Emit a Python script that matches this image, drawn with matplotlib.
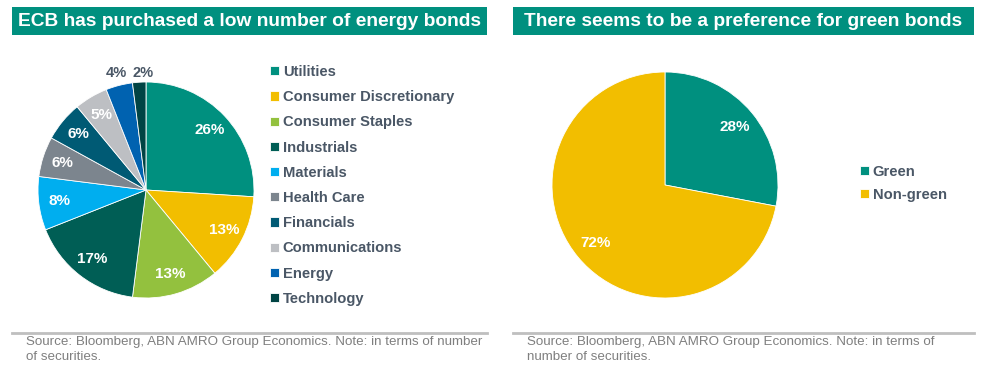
import matplotlib
matplotlib.use("Agg")
import matplotlib.pyplot as plt
from matplotlib.patches import Rectangle
from matplotlib.lines import Line2D
import numpy as np

plt.rcParams['font.family'] = ['Liberation Sans', 'DejaVu Sans']

# ---- data ----
sectors = ["Utilities", "Consumer Discretionary", "Consumer Staples", "Industrials",
           "Materials", "Health Care", "Financials", "Communications", "Energy", "Technology"]
sector_share = [26, 13, 13, 17, 8, 6, 6, 5, 4, 2]
sector_colors = ["#00907F", "#F2BE00", "#93C13E", "#005E55", "#00AEEF",
                 "#7C858E", "#005A74", "#BDBFC3", "#0062B0", "#004444"]

bond_types = ["Green", "Non-green"]
bond_share = [28, 72]
bond_colors = ["#00907F", "#F2BE00"]

title_left = "ECB has purchased a low number of energy bonds"
title_right = "There seems to be a preference for green bonds"
source_left = "Source: Bloomberg, ABN AMRO Group Economics. Note: in terms of number\nof securities."
source_right = "Source: Bloomberg, ABN AMRO Group Economics. Note: in terms of\nnumber of securities."

W, H = 982, 385
fig = plt.figure(figsize=(W / 100, H / 100), dpi=100)
fig.patch.set_facecolor("white")

TEAL = "#00907F"
LEG_COLOR = "#4A5766"
SRC_COLOR = "#7F7F7F"


def fx(px):
    return px / W


def fy(py):
    return 1 - py / H


def title_bar(x0, x1, y0, y1, text):
    fig.patches.append(Rectangle((fx(x0), fy(y1)), fx(x1) - fx(x0), fy(y0) - fy(y1),
                                 transform=fig.transFigure, facecolor=TEAL, edgecolor="none"))
    fig.text((fx(x0) + fx(x1)) / 2, (fy(y0) + fy(y1)) / 2, text, color="white",
             fontsize=13.75, fontweight="bold", ha="center", va="center")


def source_block(x0, x1, yline, text):
    fig.lines.append(Line2D([fx(x0), fx(x1)], [fy(yline), fy(yline)], transform=fig.transFigure,
                            color="#BFBFBF", lw=2.0))
    fig.text(fx(x0 + 14), fy(yline + 3), text, color=SRC_COLOR, fontsize=9.65,
             ha="left", va="top", linespacing=1.33)


def pie_axes(cx, cy, r):
    return fig.add_axes([fx(cx - r), fy(cy + r), 2 * r / W, 2 * r / H])


# ---- left chart ----
title_bar(12, 487, 7, 35, title_left)
axL = pie_axes(146, 190, 108)
wedgesL, _ = axL.pie(sector_share, colors=sector_colors, startangle=90, counterclock=False,
                     wedgeprops=dict(edgecolor="white", linewidth=0.6))
axL.set_xlim(-1, 1)
axL.set_ylim(-1, 1)
axL.set_aspect("equal")
cum = np.cumsum([0] + sector_share)
for i, v in enumerate(sector_share):
    mid = 90 - 360 * (cum[i] + v / 2) / 100
    if v >= 5:
        d, col, dx, dy, fs = 0.81, "white", 0, 0, 11
    else:
        d, col, dx, dy, fs = 1.1, "#4A5766", 0, 0, 10.5
        if i == 8:
            dx, dy = 0.0, 0.015
        if i == 9:
            dx, dy = 0.04, -0.01
    x = d * np.cos(np.radians(mid)) + dx
    y = d * np.sin(np.radians(mid)) + dy
    axL.text(x, y, f"{v}%", color=col, fontsize=fs, fontweight="bold",
             ha="center", va="center", clip_on=False)

fig.legend(wedgesL, sectors, loc="upper left", bbox_to_anchor=(fx(270), fy(65)),
           bbox_transform=fig.transFigure, frameon=False,
           handlelength=0.58, handleheight=0.58, handletextpad=0.28, labelspacing=0.76,
           borderpad=0, borderaxespad=0, labelcolor=LEG_COLOR,
           prop=dict(weight="bold", size=10.6))

source_block(12, 487, 333, source_left)

# ---- right chart ----
title_bar(513, 974, 7, 35, title_right)
axR = pie_axes(665, 185, 113)
wedgesR, _ = axR.pie(bond_share, colors=bond_colors, startangle=90, counterclock=False,
                     wedgeprops=dict(edgecolor="white", linewidth=0.6))
axR.set_xlim(-1, 1)
axR.set_ylim(-1, 1)
axR.set_aspect("equal")
cumR = np.cumsum([0] + bond_share)
for i, v in enumerate(bond_share):
    mid = 90 - 360 * (cumR[i] + v / 2) / 100
    d = 0.8
    x, y = d * np.cos(np.radians(mid)), d * np.sin(np.radians(mid))
    axR.text(x, y, f"{v}%", color="white", fontsize=11, fontweight="bold",
             ha="center", va="center")

fig.legend(wedgesR, bond_types, loc="upper left", bbox_to_anchor=(fx(860), fy(165)),
           bbox_transform=fig.transFigure, frameon=False,
           handlelength=0.58, handleheight=0.58, handletextpad=0.28, labelspacing=0.58,
           borderpad=0, borderaxespad=0, labelcolor=LEG_COLOR,
           prop=dict(weight="bold", size=10.6))

source_block(513, 974, 333, source_right)

fig.savefig("out.png", dpi=100, facecolor="white")
